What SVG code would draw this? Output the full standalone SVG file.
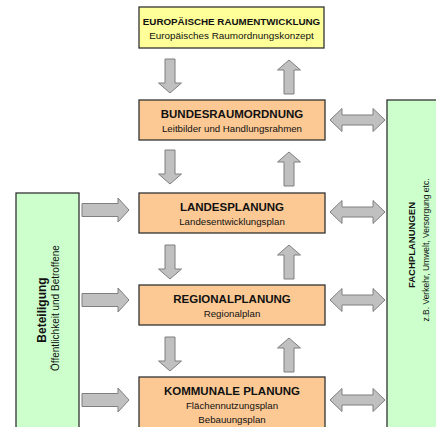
<svg xmlns="http://www.w3.org/2000/svg" width="436" height="427" viewBox="0 0 436 427">
<style>
.box{stroke:#333;stroke-width:1.3}
.yellow{fill:#FFFF99}
.orange{fill:#FCC995}
.green{fill:#CCFFCC}
.arr{fill:#C0C0C0;stroke:#7F7F7F;stroke-width:1}
text{font-family:"Liberation Sans",Arial,sans-serif;fill:#111;text-anchor:middle}
.t{font-weight:bold;font-size:11.5px}
.s{font-size:9.7px}
</style>
<defs>
<path id="down" d="M-5,0 H5 V24 H11.5 L0,34 L-11.5,24 H-5 Z"/>
<path id="up" d="M-5,34 H5 V10 H11.5 L0,0 L-11.5,10 H-5 Z"/>
<path id="right" d="M0,-6.5 H36 V-12 L47,0 L36,12 V6.5 H0 Z"/>
<path id="dbl" d="M0,0 L12,-11.5 V-5 H43 V-11.5 L55,0 L43,11.5 V5 H12 V11.5 Z"/>
</defs>
<g id="connectors">
<use href="#down" class="arr" x="170" y="59"/>
<use href="#up" class="arr" x="289" y="60"/>
<use href="#down" class="arr" x="170" y="150"/>
<use href="#up" class="arr" x="289" y="152"/>
<use href="#down" class="arr" x="170" y="245"/>
<use href="#up" class="arr" x="289" y="245"/>
<use href="#down" class="arr" x="170" y="337"/>
<use href="#up" class="arr" x="289" y="338"/>
<use href="#right" class="arr" x="82" y="210"/>
<use href="#right" class="arr" x="82" y="300"/>
<use href="#right" class="arr" x="82" y="400"/>
<use href="#dbl" class="arr" x="330" y="120"/>
<use href="#dbl" class="arr" x="330" y="212"/>
<use href="#dbl" class="arr" x="330" y="300"/>
<use href="#dbl" class="arr" x="330" y="400"/>
</g>
<g id="europa">
<rect class="box yellow" x="139" y="7" width="185" height="41"/>
<text x="231.5" y="25" style="font-weight:bold;font-size:9.8px">EUROPÄISCHE RAUMENTWICKLUNG</text>
<text x="231.5" y="39" style="font-size:9.9px">Europäisches Raumordnungskonzept</text>
</g>
<g id="bund">
<rect class="box orange" x="139" y="100" width="186" height="40"/>
<text class="t" x="232" y="118">BUNDESRAUMORDNUNG</text>
<text class="s" x="232" y="132">Leitbilder und Handlungsrahmen</text>
</g>
<g id="land">
<rect class="box orange" x="139" y="193" width="186" height="40"/>
<text class="t" x="232" y="211">LANDESPLANUNG</text>
<text class="s" x="232" y="225">Landesentwicklungsplan</text>
</g>
<g id="region">
<rect class="box orange" x="139" y="285" width="186" height="40"/>
<text class="t" x="232" y="303">REGIONALPLANUNG</text>
<text class="s" x="232" y="317">Regionalplan</text>
</g>
<g id="kommune">
<rect class="box orange" x="139" y="377" width="186" height="60"/>
<text class="t" x="232" y="395">KOMMUNALE PLANUNG</text>
<text class="s" x="232" y="409">Flächennutzungsplan</text>
<text class="s" x="232" y="423">Bebauungsplan</text>
</g>
<g id="beteiligung">
<rect class="box green" x="16" y="193" width="63" height="250"/>
<text transform="translate(46,310) rotate(-90)" style="font-weight:bold;font-size:12px">Beteiligung</text>
<text transform="translate(59,308) rotate(-90)" style="font-size:10px">Öffentlichkeit und Betroffene</text>
</g>
<g id="fach">
<rect class="box green" x="387" y="100" width="60" height="340"/>
<text transform="translate(415,245) rotate(-90)" style="font-weight:bold;font-size:9.5px">FACHPLANUNGEN</text>
<text transform="translate(429,250) rotate(-90)" style="font-size:8.5px">z.B. Verkehr, Umwelt, Versorgung etc.</text>
</g>
</svg>
